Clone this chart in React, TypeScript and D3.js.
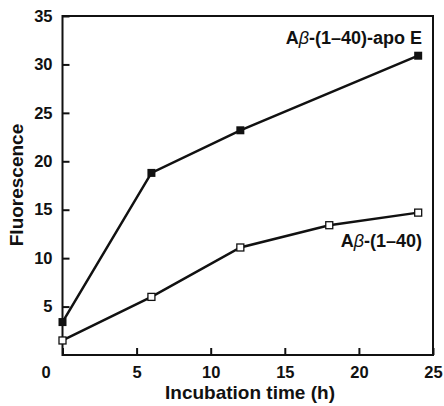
import React, { useEffect, useRef } from "react";
import * as d3 from "d3";

const apoTimes = [0, 6, 12, 24];
const apoValues = [3.4, 18.8, 23.2, 30.9];
const abTimes = [0, 6, 12, 18, 24];
const abValues = [1.5, 6.0, 11.1, 13.4, 14.7];
const xTicks = [0, 5, 10, 15, 20, 25];
const yTicks = [5, 10, 15, 20, 25, 30, 35];

const App = () => {
  const ref = useRef<HTMLDivElement>(null);

  useEffect(() => {
    const width = 444;
    const height = 406;
    const left = 62.5, right = 433, top = 16, bottom = 355;
    const font = "'Liberation Sans', Arial, sans-serif";

    const svg = d3
      .select(ref.current)
      .html("")
      .append("svg")
      .attr("width", width)
      .attr("height", height)
      .style("display", "block")
      .style("font-family", font);

    const x = d3.scaleLinear().domain([0, 25]).range([left, right]);
    const y = d3.scaleLinear().domain([0, 35]).range([bottom, top]);

    // frame
    svg.append("rect")
      .attr("x", left).attr("y", top)
      .attr("width", right - left).attr("height", bottom - top)
      .attr("fill", "none").attr("stroke", "#111").attr("stroke-width", 2);

    const xAxis = svg.append("g")
      .attr("transform", `translate(0,${bottom})`)
      .call(d3.axisBottom(x).tickValues(xTicks).tickSizeInner(-7).tickSizeOuter(0).tickPadding(11));
    xAxis.select(".domain").remove();
    xAxis.selectAll("line").attr("stroke", "#111").attr("stroke-width", 2);
    xAxis.selectAll("text")
      .attr("font-size", 16.5).attr("font-weight", "bold").attr("fill", "#111")
      .attr("font-family", font)
      .attr("dx", (d: any) => (d === 0 ? -17 : 0));

    const yAxis = svg.append("g")
      .attr("transform", `translate(${left},0)`)
      .call(d3.axisLeft(y).tickValues(yTicks).tickSizeInner(-7).tickSizeOuter(0).tickPadding(10));
    yAxis.select(".domain").remove();
    yAxis.selectAll("line").attr("stroke", "#111").attr("stroke-width", 2);
    yAxis.selectAll("text")
      .attr("font-size", 16.5).attr("font-weight", "bold").attr("fill", "#111")
      .attr("font-family", font);

    const line = d3.line<[number, number]>()
      .x((d) => x(d[0]))
      .y((d) => y(d[1]));

    const apo = apoTimes.map((t, i) => [t, apoValues[i]] as [number, number]);
    const ab = abTimes.map((t, i) => [t, abValues[i]] as [number, number]);

    svg.append("path").datum(ab).attr("d", line)
      .attr("fill", "none").attr("stroke", "#111").attr("stroke-width", 2.5);
    svg.append("path").datum(apo).attr("d", line)
      .attr("fill", "none").attr("stroke", "#111").attr("stroke-width", 2.5);

    svg.append("g").selectAll("rect").data(ab).join("rect")
      .attr("x", (d) => x(d[0]) - 3.5).attr("y", (d) => y(d[1]) - 3.5)
      .attr("width", 7).attr("height", 7)
      .attr("fill", "white").attr("stroke", "#111").attr("stroke-width", 1.3);

    svg.append("g").selectAll("rect").data(apo).join("rect")
      .attr("x", (d) => x(d[0]) - 4).attr("y", (d) => y(d[1]) - 4)
      .attr("width", 8).attr("height", 8)
      .attr("fill", "#111");

    const label = (txt: string, yy: number) => {
      const t = svg.append("text")
        .attr("x", 422).attr("y", yy)
        .attr("text-anchor", "end")
        .attr("font-size", 18).attr("font-weight", "bold").attr("fill", "#111");
      t.append("tspan").text("A");
      t.append("tspan").attr("font-style", "italic").attr("font-weight", "normal").text("β");
      t.append("tspan").text(txt);
    };
    label("-(1–40)-apo E", 43.5);
    label("-(1–40)", 246.5);

    svg.append("text")
      .attr("x", 250).attr("y", 399)
      .attr("text-anchor", "middle")
      .attr("font-size", 19).attr("font-weight", "bold").attr("fill", "#111")
      .text("Incubation time (h)");

    svg.append("text")
      .attr("transform", "rotate(-90)")
      .attr("x", -185).attr("y", 23)
      .attr("text-anchor", "middle")
      .attr("font-size", 19).attr("font-weight", "bold").attr("fill", "#111")
      .text("Fluorescence");
  }, []);

  return <div ref={ref} style={{ position: "absolute", left: 0, top: 0 }} />;
};

export default App;
